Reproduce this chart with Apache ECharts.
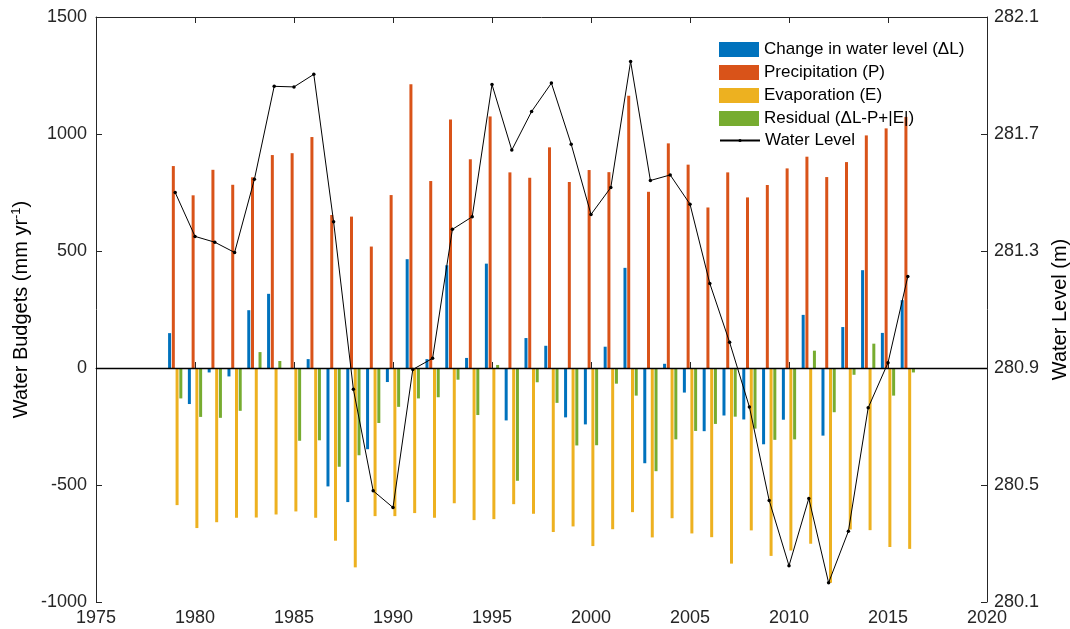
<!DOCTYPE html>
<html>
<head>
<meta charset="utf-8">
<script src="https://cdn.jsdelivr.net/npm/echarts@6/dist/echarts.min.js"></script>
<style>
  html, body { margin: 0; padding: 0; background: #fff; }
  #chart { width: 1070px; height: 629px; }
</style>
</head>
<body>
<div id="chart"></div>
<script>
// years of record
const years = [1979, 1980, 1981, 1982, 1983, 1984, 1985, 1986, 1987, 1988,
  1989, 1990, 1991, 1992, 1993, 1994, 1995, 1996, 1997, 1998,
  1999, 2000, 2001, 2002, 2003, 2004, 2005, 2006, 2007, 2008,
  2009, 2010, 2011, 2012, 2013, 2014, 2015, 2016];

// change in water level (mm/yr)
const deltaL = [149, -154, -19, -36, 247, 317, 0, 38, -506, -573,
  -347, -60, 465, 38, 439, 43, 446, -224, 128, 95,
  -211, -241, 91, 428, -407, 18, -105, -270, -203, -220,
  -326, -221, 227, -289, 175, 418, 150, 290];

// precipitation (mm/yr)
const precip = [863, 738, 847, 783, 815, 910, 918, 987, 654, 647,
  519, 739, 1213, 799, 1062, 892, 1075, 836, 813, 943,
  795, 846, 837, 1163, 753, 960, 869, 686, 836, 729,
  782, 853, 903, 816, 880, 994, 1024, 1073];

// evaporation (mm/yr)
const evap = [-586, -684, -659, -640, -639, -626, -613, -640, -738, -852,
  -633, -633, -620, -640, -578, -650, -646, -582, -623, -701,
  -677, -761, -689, -616, -724, -642, -707, -723, -836, -694,
  -803, -780, -751, -918, -690, -693, -765, -773];

// residual (dL - P + |E|)
const residual = [-130, -209, -213, -183, 68, 30, -311, -309, -422, -373,
  -235, -166, -130, -125, -50, -201, 13, -482, -61, -149,
  -331, -330, -67, -118, -441, -305, -269, -239, -208, -259,
  -307, -305, 74, -189, -29, 104, -118, -19];

// lake water level (m)
const level = [281.50, 281.35, 281.33, 281.295, 281.545, 281.863, 281.861, 281.904, 281.40, 280.827,
  280.48, 280.423, 280.895, 280.933, 281.374, 281.417, 281.869, 281.645, 281.777, 281.874,
  281.665, 281.425, 281.517, 281.948, 281.541, 281.56, 281.46, 281.189, 280.988, 280.767,
  280.447, 280.224, 280.454, 280.166, 280.342, 280.764, 280.918, 281.213];

const FONT = '"Liberation Sans", Arial, Helvetica, sans-serif';
const AXIS_COLOR = '#262626';

const pairs = (vals) => years.map((y, i) => [y, vals[i]]);

const barSeries = (name, vals, color) => ({
  name: name,
  type: 'bar',
  data: pairs(vals),
  barWidth: 3,
  barGap: '25%',
  itemStyle: { color: color },
  z: 2
});

const chart = echarts.init(document.getElementById('chart'));

const xAxisBase = {
  type: 'value',
  min: 1975,
  max: 2020,
  interval: 5,
  axisLine: { show: true, lineStyle: { color: AXIS_COLOR, width: 1 } },
  axisTick: { show: true, inside: true, length: 6, lineStyle: { color: AXIS_COLOR } },
  splitLine: { show: false }
};

const legendText = { fontSize: 17, color: '#000', fontFamily: FONT };

const option = {
  animation: false,
  textStyle: { fontFamily: FONT },
  grid: {
    left: 96, right: 83, top: 17, bottom: 27,
    containLabel: false,
    outerBoundsMode: 'none'
  },
  legend: [
    {
      orient: 'vertical',
      left: 714,
      top: 36,
      itemWidth: 40,
      itemHeight: 15,
      itemGap: 6,
      textStyle: legendText,
      data: [
        { name: 'Change in water level (ΔL)', icon: 'rect' },
        { name: 'Precipitation (P)', icon: 'rect' },
        { name: 'Evaporation (E)', icon: 'rect' },
        { name: 'Residual (ΔL-P+|E|)', icon: 'rect' }
      ]
    },
    {
      orient: 'vertical',
      left: 714,
      top: 127,
      itemWidth: 40,
      itemHeight: 4,
      textStyle: legendText,
      data: ['Water Level']
    }
  ],
  xAxis: [
    Object.assign({}, xAxisBase, {
      position: 'bottom',
      axisLabel: {
        fontSize: 18, color: AXIS_COLOR, margin: 7, fontFamily: FONT,
        formatter: (v) => String(v)
      }
    }),
    Object.assign({}, xAxisBase, {
      position: 'top',
      axisLabel: { show: false }
    })
  ],
  yAxis: [
    {
      type: 'value',
      position: 'left',
      min: -1000,
      max: 1500,
      interval: 500,
      name: '{a|Water Budgets (mm yr}{s|-1}{a|)}',
      nameLocation: 'middle',
      nameGap: 63,
      nameMoveOverlap: false,
      nameTextStyle: {
        rich: {
          a: { fontSize: 20, color: '#000', fontFamily: FONT },
          s: { fontSize: 13, color: '#000', fontFamily: FONT, padding: [0, 0, 10, 0] }
        }
      },
      axisLine: { show: true, lineStyle: { color: AXIS_COLOR, width: 1 } },
      axisTick: { show: true, inside: true, length: 6, lineStyle: { color: AXIS_COLOR } },
      axisLabel: {
        fontSize: 18, color: AXIS_COLOR, margin: 9, fontFamily: FONT,
        formatter: (v) => String(v)
      },
      splitLine: { show: false }
    },
    {
      type: 'value',
      position: 'right',
      min: 280.1,
      max: 282.1,
      interval: 0.4,
      name: 'Water Level (m)',
      nameLocation: 'middle',
      nameGap: 63,
      nameMoveOverlap: false,
      nameTextStyle: { fontSize: 20, color: '#000', fontFamily: FONT },
      axisLine: { show: true, lineStyle: { color: AXIS_COLOR, width: 1 } },
      axisTick: { show: true, inside: true, length: 6, lineStyle: { color: AXIS_COLOR } },
      axisLabel: {
        fontSize: 18, color: AXIS_COLOR, margin: 7, fontFamily: FONT,
        formatter: (v) => v.toFixed(1)
      },
      splitLine: { show: false }
    }
  ],
  series: [
    Object.assign(barSeries('Change in water level (ΔL)', deltaL, '#0072BD'), {
      markLine: {
        silent: true,
        symbol: ['none', 'none'],
        label: { show: false },
        lineStyle: { color: '#000', type: 'solid', width: 1.3 },
        data: [{ yAxis: 0 }]
      }
    }),
    barSeries('Precipitation (P)', precip, '#D95319'),
    barSeries('Evaporation (E)', evap, '#EDB120'),
    barSeries('Residual (ΔL-P+|E|)', residual, '#77AC30'),
    {
      name: 'Water Level',
      type: 'line',
      yAxisIndex: 1,
      data: pairs(level),
      symbol: 'circle',
      symbolSize: 3.5,
      showSymbol: true,
      lineStyle: { color: '#000', width: 1 },
      itemStyle: { color: '#000' },
      z: 5
    }
  ]
};

chart.setOption(option);
</script>
</body>
</html>
